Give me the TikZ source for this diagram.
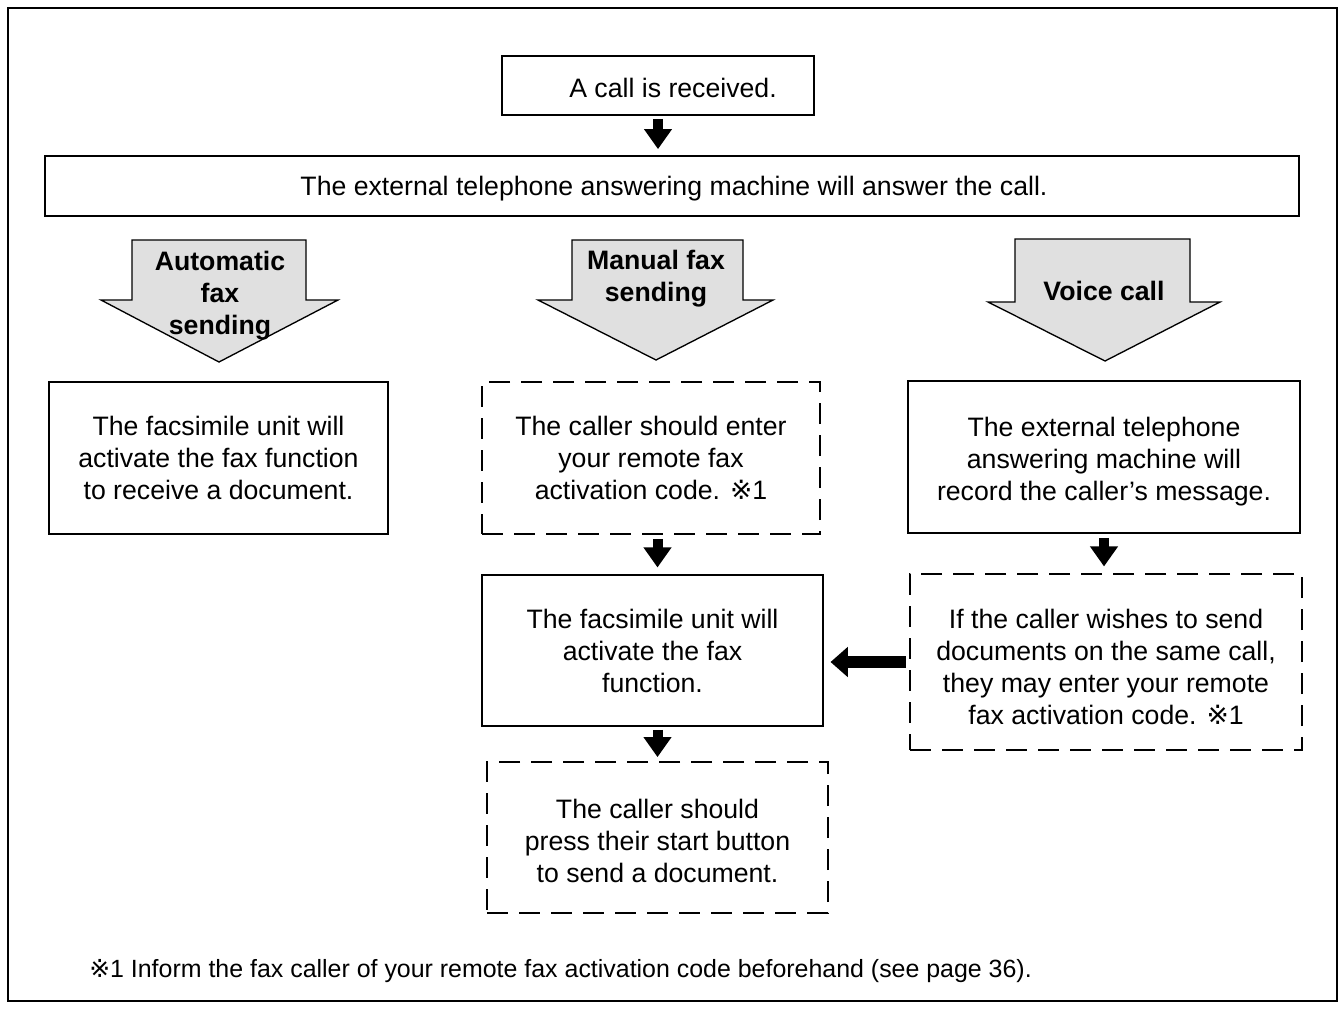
\documentclass[tikz,border=0pt]{standalone}
\usepackage{fontspec}
\setmainfont{Liberation Sans}
\newfontfamily\refmarkfont{DejaVu Sans}
\usetikzlibrary{arrows.meta,calc}
\newcommand{\rmk}{{\refmarkfont ※}}
\begin{document}
\begin{tikzpicture}[x=0.75pt,y=-0.75pt,
  txt/.style={font=\fontsize{20}{24}\selectfont, align=center, inner sep=0pt},
  box/.style={draw, line width=1.3pt, align=center, inner sep=0pt, txt},
  dbox/.style={box, dash pattern=on 16pt off 8pt},
  lbl/.style={align=center, inner sep=0pt, font=\fontsize{20}{24}\selectfont\bfseries},
  barrow/.style={line width=7.5pt, -{Triangle[width=20pt,length=15pt]}},
  harrow/.style={line width=9pt, -{Triangle[width=22pt,length=13pt]}},
  bigarrow/.style={draw, line width=1pt, fill=black!12},
]
\useasboundingbox (0,0) rectangle (1344,1008);
\draw[line width=1.4pt] (8,8) rectangle (1337,1001);

% boxes
\node[box, minimum width=234pt, minimum height=44.25pt] (recv) at (658,85.5) {};
\node[txt] (recvt) at (673,87.5) {A call is received.};
\node[box, minimum width=940.5pt, minimum height=45pt] (tam) at (672,186) {};
\node[txt] (tamt) at (674,189) {The external telephone answering machine will answer the call.};
\node[box, minimum width=254.25pt, minimum height=114pt] (fax1) at (218.5,458) {The facsimile unit will\\activate the fax function\\to receive a document.};
\node[dbox, minimum width=253.5pt, minimum height=114pt] (call1) at (651,458) {The caller should enter\\your remote fax\\activation code. \rmk1};
\node[box, minimum width=294pt, minimum height=114pt] (rec) at (1104,457) {};
\node[txt] (rect) at (1104,462) {The external telephone\\answering machine will\\record the caller’s message.};
\node[box, minimum width=255.75pt, minimum height=113.25pt] (act) at (652.5,650.5) {The facsimile unit will\\activate the fax\\function.};
\node[dbox, minimum width=294pt, minimum height=132pt] (wish) at (1106,662) {};
\node[txt] (wisht) at (1106,667) {If the caller wishes to send\\documents on the same call,\\they may enter your remote\\fax activation code. \rmk1};
\node[dbox, minimum width=255.75pt, minimum height=113.25pt] (press) at (657.5,837.5) {};
\node[txt] (presst) at (657.5,840.5) {The caller should\\press their start button\\to send a document.};

% big gray arrows
\draw[bigarrow] (132,240) -- (306,240) -- (306,300) -- (338,300) -- (219,362) -- (101,300) -- (132,300) -- cycle;
\node[lbl] (lauto) at (220,296) {Automatic\\fax\\sending};
\draw[bigarrow] (572,240) -- (743,240) -- (743,300) -- (773,300) -- (656,360) -- (538,300) -- (572,300) -- cycle;
\node[lbl] (lman) at (656,279) {Manual fax\\sending};
\draw[bigarrow] (1015,239) -- (1190,239) -- (1190,302) -- (1220,302) -- (1105,361) -- (988,302) -- (1015,302) -- cycle;
\node[lbl] (lvoice) at (1104,291) {Voice call};

% connectors
\draw[barrow, shorten <=2.25pt, shorten >=4.5pt] (recv.south) -- (recv.south |- tam.north);
\draw[barrow, shorten <=3pt, shorten >=5pt] (call1.south -| press.north) -- (act.north -| press.north);
\draw[barrow, shorten <=3pt, shorten >=5pt] (rec.south) -- (rec.south |- wish.north);
\draw[barrow, shorten <=2.25pt, shorten >=3pt] (act.south -| press.north) -- (press.north);
\draw[harrow, shorten <=2.25pt, shorten >=5pt] (wish.west) -- (wish.west -| act.east);

% footnote
\node[anchor=base west, inner sep=0pt, font=\fontsize{18.7}{22}\selectfont] (note) at (89,977) {\rmk1 Inform the fax caller of your remote fax activation code beforehand (see page 36).};
\end{tikzpicture}
\end{document}
